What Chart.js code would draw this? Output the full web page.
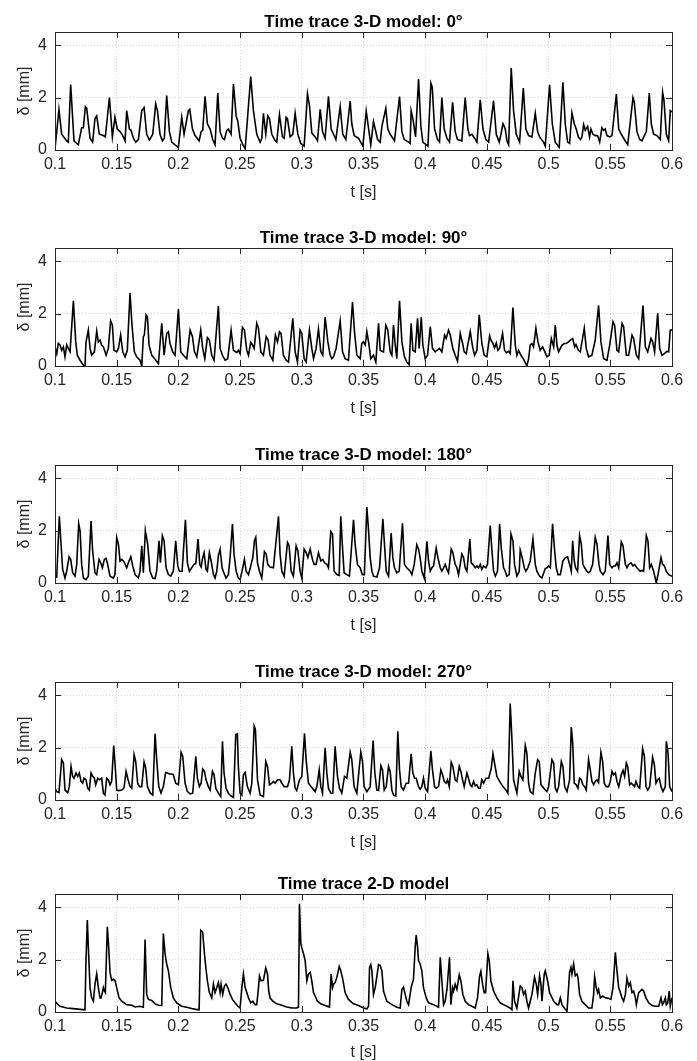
<!DOCTYPE html>
<html>
<head>
<meta charset="utf-8">
<script src="https://cdn.jsdelivr.net/npm/chart.js@4"></script>
<style>
  html, body { margin: 0; padding: 0; background: #fff; overflow: hidden; }
  #wrap { position: relative; width: 697px; height: 1061px; }
  #wrap canvas { position: absolute; left: 0; }
</style>
</head>
<body>
<div id="wrap"></div>
<script>
// 子图标题
const titles = [
    'Time trace 3-D model: 0°',
    'Time trace 3-D model: 90°',
    'Time trace 3-D model: 180°',
    'Time trace 3-D model: 270°',
    'Time trace 2-D model'
];
const xTicks = [0.1, 0.15, 0.2, 0.25, 0.3, 0.35, 0.4, 0.45, 0.5, 0.55, 0.6];
const yTicks = [0, 2, 4];
const xLabel = 't [s]';
const yLabel = 'δ [mm]';

// [t (s), delta (mm)] 读自原图
const trace0 = [[0.1000,0.05],[0.1032,1.55],[0.1054,0.6],[0.1095,0.35],[0.1108,0.3],[0.1127,2.5],[0.1154,0.35],[0.1189,0.2],[0.1216,0.85],[0.1230,0.85],[0.1246,1.65],[0.1257,1.6],[0.1284,0.45],[0.1305,0.3],[0.1324,1.2],[0.1338,1.3],[0.1359,0.6],[0.1392,0.55],[0.1408,0.5],[0.1441,2.0],[0.1465,0.5],[0.1486,1.25],[0.1505,0.8],[0.1527,0.7],[0.1549,0.55],[0.1568,0.35],[0.1581,1.5],[0.1603,0.8],[0.1616,0.75],[0.1635,0.45],[0.1654,0.3],[0.1676,0.4],[0.1703,1.5],[0.1722,1.62],[0.1743,0.6],[0.1765,0.38],[0.1792,0.6],[0.1816,1.76],[0.1830,1.5],[0.1851,0.6],[0.1870,0.35],[0.1886,0.45],[0.1905,2.08],[0.1927,0.7],[0.1946,0.3],[0.1973,0.2],[0.2000,0.1],[0.2027,1.25],[0.2046,0.6],[0.2081,1.5],[0.2092,1.55],[0.2114,0.8],[0.2135,0.55],[0.2168,0.35],[0.2184,0.7],[0.2197,0.75],[0.2216,2.05],[0.2235,1.0],[0.2257,0.8],[0.2278,0.4],[0.2297,0.2],[0.2319,2.17],[0.2338,0.7],[0.2357,0.45],[0.2373,0.4],[0.2392,0.75],[0.2405,0.8],[0.2427,0.6],[0.2446,2.52],[0.2468,1.3],[0.2481,1.1],[0.2500,0.45],[0.2522,0.2],[0.2541,0.05],[0.2586,2.8],[0.2608,1.5],[0.2635,0.6],[0.2662,0.3],[0.2676,0.45],[0.2689,1.4],[0.2708,0.6],[0.2724,1.3],[0.2738,1.2],[0.2757,0.6],[0.2784,0.35],[0.2797,0.3],[0.2819,1.35],[0.2843,0.5],[0.2857,0.45],[0.2873,1.25],[0.2884,1.2],[0.2905,0.5],[0.2927,0.6],[0.2946,1.4],[0.2968,0.6],[0.2992,0.25],[0.3019,0.15],[0.3046,2.14],[0.3062,1.7],[0.3081,0.65],[0.3108,0.5],[0.3127,0.35],[0.3149,1.55],[0.3168,0.7],[0.3189,0.45],[0.3216,2.05],[0.3238,0.8],[0.3257,0.6],[0.3276,0.4],[0.3311,1.65],[0.3332,0.6],[0.3357,0.4],[0.3392,1.87],[0.3405,1.0],[0.3424,0.55],[0.3459,0.45],[0.3495,0.15],[0.3522,1.49],[0.3559,0.2],[0.3581,1.08],[0.3595,0.8],[0.3614,0.4],[0.3635,0.3],[0.3649,0.9],[0.3681,1.59],[0.3697,0.8],[0.3716,0.6],[0.3738,0.45],[0.3751,0.35],[0.3792,2.04],[0.3811,0.7],[0.3830,0.4],[0.3865,0.3],[0.3878,0.25],[0.3886,1.5],[0.3900,1.2],[0.3922,0.5],[0.3946,2.71],[0.3965,0.9],[0.3981,0.3],[0.4022,0.15],[0.4046,2.55],[0.4057,2.4],[0.4076,0.8],[0.4100,0.4],[0.4116,0.3],[0.4135,2.0],[0.4154,0.8],[0.4176,0.45],[0.4197,0.3],[0.4222,1.82],[0.4243,0.7],[0.4262,0.4],[0.4297,0.35],[0.4324,2.0],[0.4346,0.8],[0.4359,0.55],[0.4378,0.6],[0.4400,0.45],[0.4419,0.3],[0.4446,1.91],[0.4468,0.8],[0.4492,0.4],[0.4514,0.3],[0.4554,1.88],[0.4576,0.6],[0.4600,0.3],[0.4614,0.6],[0.4630,1.0],[0.4649,0.8],[0.4662,0.35],[0.4676,0.2],[0.4697,3.13],[0.4716,1.5],[0.4738,0.6],[0.4765,0.3],[0.4795,2.36],[0.4816,0.8],[0.4838,0.55],[0.4865,0.5],[0.4892,1.4],[0.4911,0.7],[0.4927,0.5],[0.4959,0.3],[0.4973,0.15],[0.5008,2.49],[0.5030,1.0],[0.5054,0.3],[0.5086,0.1],[0.5116,2.58],[0.5135,1.0],[0.5154,0.3],[0.5170,0.25],[0.5189,1.42],[0.5208,1.0],[0.5224,0.8],[0.5241,0.5],[0.5257,0.4],[0.5270,0.5],[0.5284,0.97],[0.5297,0.75],[0.5316,0.9],[0.5332,0.5],[0.5343,0.8],[0.5359,0.6],[0.5378,0.55],[0.5397,0.55],[0.5414,0.3],[0.5432,0.85],[0.5446,0.75],[0.5459,0.8],[0.5473,0.55],[0.5495,0.5],[0.5514,0.55],[0.5549,2.13],[0.5568,0.8],[0.5589,0.6],[0.5614,0.4],[0.5641,0.2],[0.5684,2.0],[0.5695,1.8],[0.5716,0.7],[0.5738,0.4],[0.5757,0.35],[0.5776,0.55],[0.5792,0.7],[0.5816,2.17],[0.5832,1.0],[0.5851,0.6],[0.5878,0.55],[0.5905,0.4],[0.5924,2.2],[0.5935,1.9],[0.5954,0.6],[0.5973,0.35],[0.5986,1.5],[0.6000,1.45]];

const trace90 = [[0.1000,0.73],[0.1014,0.47],[0.1027,0.86],[0.1041,0.8],[0.1054,0.6],[0.1068,0.73],[0.1081,0.35],[0.1095,0.8],[0.1108,0.67],[0.1122,0.54],[0.1149,2.49],[0.1168,0.92],[0.1181,0.41],[0.1203,0.22],[0.1230,0.03],[0.1243,0.0],[0.1251,0.9],[0.1270,1.37],[0.1284,0.67],[0.1297,0.41],[0.1319,0.54],[0.1338,1.33],[0.1351,0.92],[0.1365,0.99],[0.1378,0.8],[0.1392,0.73],[0.1414,0.41],[0.1432,0.67],[0.1451,1.72],[0.1465,1.56],[0.1478,0.6],[0.1500,0.54],[0.1514,0.67],[0.1532,1.18],[0.1549,0.54],[0.1568,0.35],[0.1586,0.6],[0.1608,2.78],[0.1624,1.56],[0.1643,0.54],[0.1662,0.35],[0.1689,0.22],[0.1703,0.0],[0.1716,1.12],[0.1724,1.18],[0.1738,1.95],[0.1749,1.88],[0.1762,0.8],[0.1784,0.41],[0.1811,0.26],[0.1838,0.09],[0.1865,1.63],[0.1884,0.41],[0.1905,1.24],[0.1919,1.31],[0.1932,0.86],[0.1954,0.54],[0.1973,0.41],[0.2000,2.17],[0.2019,0.54],[0.2041,0.41],[0.2068,0.28],[0.2095,1.37],[0.2114,1.12],[0.2130,0.54],[0.2149,0.35],[0.2181,1.37],[0.2197,0.67],[0.2214,0.28],[0.2235,1.08],[0.2251,0.99],[0.2270,0.41],[0.2289,0.22],[0.2324,2.29],[0.2338,0.67],[0.2357,0.41],[0.2378,0.22],[0.2400,0.28],[0.2427,1.37],[0.2446,0.6],[0.2473,0.51],[0.2486,0.6],[0.2500,0.47],[0.2519,1.47],[0.2535,1.37],[0.2554,0.6],[0.2568,0.41],[0.2586,0.9],[0.2600,0.8],[0.2614,0.67],[0.2635,1.63],[0.2649,1.44],[0.2668,0.54],[0.2689,0.41],[0.2711,1.12],[0.2727,0.99],[0.2743,0.41],[0.2765,0.22],[0.2786,1.18],[0.2803,0.92],[0.2819,1.31],[0.2832,1.24],[0.2851,0.41],[0.2873,0.22],[0.2892,0.15],[0.2927,1.82],[0.2946,0.54],[0.2965,0.15],[0.2986,1.37],[0.3000,1.24],[0.3019,0.28],[0.3035,0.15],[0.3062,1.37],[0.3081,0.67],[0.3095,0.28],[0.3116,0.67],[0.3135,1.41],[0.3154,0.54],[0.3170,0.41],[0.3189,1.87],[0.3211,0.92],[0.3230,0.41],[0.3243,0.28],[0.3257,0.35],[0.3278,0.67],[0.3311,1.72],[0.3330,0.54],[0.3351,0.28],[0.3378,0.22],[0.3411,2.44],[0.3427,1.31],[0.3446,0.41],[0.3473,0.28],[0.3486,0.86],[0.3500,0.92],[0.3514,0.8],[0.3527,1.31],[0.3541,0.92],[0.3559,0.28],[0.3581,0.41],[0.3600,0.15],[0.3622,1.63],[0.3635,0.6],[0.3649,0.56],[0.3662,0.54],[0.3681,1.56],[0.3697,1.37],[0.3716,0.54],[0.3730,0.41],[0.3743,1.56],[0.3757,0.8],[0.3770,0.28],[0.3792,2.49],[0.3811,0.92],[0.3832,0.35],[0.3851,0.15],[0.3870,0.05],[0.3886,1.63],[0.3900,0.6],[0.3919,0.54],[0.3938,1.82],[0.3951,0.67],[0.3968,1.88],[0.3981,0.8],[0.4000,0.28],[0.4019,0.41],[0.4041,1.5],[0.4059,0.67],[0.4081,0.54],[0.4095,0.6],[0.4116,0.67],[0.4135,0.54],[0.4157,1.18],[0.4170,1.05],[0.4189,1.37],[0.4203,1.18],[0.4224,0.67],[0.4243,0.41],[0.4262,0.19],[0.4284,1.24],[0.4303,0.86],[0.4316,0.54],[0.4332,0.47],[0.4365,1.31],[0.4384,0.73],[0.4400,0.41],[0.4419,0.6],[0.4438,1.95],[0.4459,0.86],[0.4478,0.41],[0.4500,0.35],[0.4522,1.15],[0.4532,0.99],[0.4549,0.86],[0.4562,0.69],[0.4576,0.88],[0.4589,0.6],[0.4603,0.67],[0.4627,1.24],[0.4643,0.6],[0.4657,0.51],[0.4676,0.56],[0.4689,0.47],[0.4711,2.23],[0.4730,0.79],[0.4743,0.41],[0.4757,0.6],[0.4776,0.41],[0.4797,0.26],[0.4824,0.0],[0.4838,0.28],[0.4851,0.8],[0.4865,0.86],[0.4878,0.73],[0.4897,1.44],[0.4914,0.92],[0.4932,0.6],[0.4951,0.73],[0.4970,0.54],[0.4986,0.35],[0.5005,0.41],[0.5022,1.05],[0.5041,0.73],[0.5054,1.56],[0.5068,0.79],[0.5081,0.54],[0.5095,0.67],[0.5108,0.79],[0.5127,0.86],[0.5143,0.86],[0.5162,0.92],[0.5176,0.99],[0.5195,1.05],[0.5211,0.73],[0.5222,0.82],[0.5241,0.6],[0.5257,0.54],[0.5289,1.44],[0.5305,0.67],[0.5324,0.35],[0.5351,0.41],[0.5378,0.99],[0.5405,2.31],[0.5424,0.92],[0.5446,0.28],[0.5473,0.22],[0.5495,0.8],[0.5522,1.69],[0.5535,1.56],[0.5554,0.6],[0.5568,0.54],[0.5595,1.63],[0.5608,1.5],[0.5630,0.41],[0.5649,0.41],[0.5676,1.18],[0.5689,1.05],[0.5711,0.41],[0.5730,0.28],[0.5765,2.31],[0.5784,0.73],[0.5803,0.54],[0.5830,1.05],[0.5843,0.92],[0.5859,0.54],[0.5884,2.01],[0.5900,0.67],[0.5919,0.41],[0.5938,0.47],[0.5959,0.56],[0.5973,0.54],[0.5986,1.37],[0.6000,1.37]];

const trace180 = [[0.1000,0.26],[0.1014,0.22],[0.1035,2.54],[0.1049,1.48],[0.1062,0.52],[0.1081,0.19],[0.1095,0.45],[0.1114,1.0],[0.1127,0.9],[0.1143,0.39],[0.1162,0.26],[0.1176,0.71],[0.1192,2.26],[0.1203,2.0],[0.1216,0.71],[0.1230,0.19],[0.1251,0.13],[0.1270,0.26],[0.1292,2.36],[0.1305,1.23],[0.1324,0.39],[0.1338,0.32],[0.1357,0.9],[0.1370,0.77],[0.1384,0.58],[0.1400,0.9],[0.1414,0.94],[0.1427,0.71],[0.1446,0.26],[0.1473,0.19],[0.1486,0.32],[0.1500,1.74],[0.1514,1.48],[0.1527,0.84],[0.1541,0.9],[0.1559,0.81],[0.1581,0.58],[0.1600,0.84],[0.1614,1.0],[0.1630,0.65],[0.1649,0.32],[0.1676,0.19],[0.1689,0.45],[0.1703,1.42],[0.1716,0.39],[0.1732,2.0],[0.1751,1.48],[0.1770,0.45],[0.1792,0.19],[0.1811,0.17],[0.1824,0.45],[0.1843,1.61],[0.1854,0.77],[0.1870,1.81],[0.1884,1.61],[0.1900,0.58],[0.1919,0.32],[0.1938,0.26],[0.1959,0.45],[0.1978,1.61],[0.1995,0.65],[0.2008,0.45],[0.2030,0.45],[0.2057,2.41],[0.2073,0.77],[0.2089,0.45],[0.2108,0.58],[0.2127,0.71],[0.2141,0.74],[0.2159,1.68],[0.2173,0.71],[0.2184,0.61],[0.2197,0.97],[0.2208,1.16],[0.2224,0.52],[0.2235,0.45],[0.2251,1.16],[0.2265,0.84],[0.2284,0.32],[0.2297,0.19],[0.2311,0.45],[0.2324,1.03],[0.2338,1.29],[0.2354,0.58],[0.2365,0.43],[0.2386,0.19],[0.2405,0.32],[0.2419,0.97],[0.2438,2.25],[0.2451,1.1],[0.2468,0.45],[0.2486,0.19],[0.2500,0.13],[0.2516,0.45],[0.2535,0.9],[0.2549,0.45],[0.2568,0.32],[0.2586,0.65],[0.2603,0.97],[0.2616,1.61],[0.2627,1.74],[0.2641,0.77],[0.2657,0.45],[0.2676,0.19],[0.2697,1.2],[0.2711,1.1],[0.2724,0.71],[0.2743,0.61],[0.2770,0.58],[0.2811,2.54],[0.2824,1.1],[0.2838,0.45],[0.2857,0.26],[0.2884,1.55],[0.2897,1.42],[0.2914,0.45],[0.2932,0.26],[0.2954,1.42],[0.2968,1.23],[0.2986,0.45],[0.3000,0.19],[0.3019,1.29],[0.3035,1.16],[0.3049,0.97],[0.3068,1.29],[0.3086,0.9],[0.3100,0.71],[0.3116,0.71],[0.3135,1.16],[0.3154,0.84],[0.3170,0.9],[0.3184,0.77],[0.3203,0.71],[0.3216,0.58],[0.3235,1.96],[0.3249,1.87],[0.3262,0.45],[0.3284,0.32],[0.3303,0.29],[0.3316,2.54],[0.3330,1.35],[0.3343,0.39],[0.3365,0.32],[0.3386,0.26],[0.3419,2.41],[0.3432,1.48],[0.3451,0.71],[0.3473,0.58],[0.3490,0.32],[0.3507,0.32],[0.3527,2.9],[0.3541,2.0],[0.3554,0.97],[0.3568,0.45],[0.3581,0.26],[0.3608,0.23],[0.3630,0.58],[0.3657,2.45],[0.3670,1.48],[0.3684,0.45],[0.3703,0.26],[0.3724,1.9],[0.3738,0.97],[0.3751,0.58],[0.3770,0.39],[0.3789,0.45],[0.3816,2.28],[0.3832,0.71],[0.3851,0.58],[0.3878,0.45],[0.3892,0.32],[0.3911,0.71],[0.3932,1.46],[0.3946,1.29],[0.3959,0.97],[0.3973,0.45],[0.3992,0.19],[0.4014,1.59],[0.4027,0.84],[0.4041,0.45],[0.4054,0.58],[0.4068,0.65],[0.4089,1.33],[0.4103,0.97],[0.4122,0.58],[0.4135,0.45],[0.4149,0.58],[0.4162,0.71],[0.4176,0.52],[0.4189,0.39],[0.4211,1.29],[0.4224,1.16],[0.4243,0.71],[0.4257,0.58],[0.4270,0.32],[0.4284,0.71],[0.4297,1.1],[0.4311,0.97],[0.4324,0.58],[0.4338,0.45],[0.4362,1.68],[0.4373,0.77],[0.4386,0.71],[0.4405,0.58],[0.4419,0.65],[0.4432,0.58],[0.4446,0.71],[0.4459,0.52],[0.4473,0.65],[0.4492,0.58],[0.4505,0.71],[0.4527,2.19],[0.4541,1.23],[0.4554,0.45],[0.4568,0.26],[0.4586,0.45],[0.4603,2.26],[0.4616,1.35],[0.4635,0.58],[0.4649,0.45],[0.4662,0.26],[0.4681,0.32],[0.4695,1.87],[0.4711,1.61],[0.4724,0.71],[0.4743,0.26],[0.4762,0.45],[0.4770,1.25],[0.4786,0.97],[0.4803,0.58],[0.4816,0.45],[0.4832,0.58],[0.4851,0.84],[0.4873,1.68],[0.4892,0.71],[0.4905,0.45],[0.4927,0.26],[0.4946,0.19],[0.4973,0.55],[0.4986,0.58],[0.5000,0.65],[0.5014,0.58],[0.5032,2.26],[0.5049,1.23],[0.5062,0.58],[0.5076,0.32],[0.5095,0.32],[0.5116,0.84],[0.5135,0.97],[0.5154,1.0],[0.5170,0.71],[0.5184,0.45],[0.5195,1.61],[0.5208,0.84],[0.5219,0.58],[0.5235,0.45],[0.5251,1.81],[0.5265,1.48],[0.5278,0.71],[0.5292,0.58],[0.5311,0.45],[0.5324,0.39],[0.5338,0.45],[0.5357,0.71],[0.5378,1.74],[0.5392,1.48],[0.5408,0.71],[0.5419,0.45],[0.5441,0.32],[0.5459,0.45],[0.5481,1.81],[0.5495,0.71],[0.5514,0.58],[0.5527,0.65],[0.5541,0.65],[0.5554,0.77],[0.5568,0.58],[0.5589,1.57],[0.5603,1.42],[0.5622,0.71],[0.5635,0.58],[0.5649,0.71],[0.5668,0.77],[0.5684,0.65],[0.5697,0.71],[0.5716,0.58],[0.5743,0.45],[0.5757,0.48],[0.5770,0.45],[0.5792,1.81],[0.5805,1.61],[0.5819,0.58],[0.5832,0.71],[0.5851,0.45],[0.5873,0.0],[0.5892,0.45],[0.5911,0.97],[0.5924,0.71],[0.5938,0.65],[0.5954,0.45],[0.5973,0.32],[0.5986,0.29],[0.6000,0.26]];

const trace270 = [[0.1000,0.45],[0.1014,0.32],[0.1032,0.28],[0.1054,1.54],[0.1068,1.41],[0.1081,0.38],[0.1103,0.28],[0.1116,0.51],[0.1130,1.28],[0.1143,0.9],[0.1154,0.83],[0.1170,1.03],[0.1184,0.9],[0.1197,1.03],[0.1211,0.71],[0.1224,0.64],[0.1235,0.83],[0.1251,0.77],[0.1265,0.45],[0.1278,0.38],[0.1292,1.03],[0.1305,0.9],[0.1319,0.83],[0.1330,0.58],[0.1346,0.83],[0.1359,0.77],[0.1378,0.83],[0.1392,0.26],[0.1405,0.19],[0.1419,0.83],[0.1432,0.77],[0.1446,0.58],[0.1459,0.71],[0.1476,2.08],[0.1486,1.41],[0.1500,0.38],[0.1514,0.36],[0.1541,0.38],[0.1559,0.45],[0.1576,1.09],[0.1589,0.83],[0.1608,0.51],[0.1622,0.45],[0.1641,1.73],[0.1654,1.47],[0.1670,0.64],[0.1684,0.51],[0.1703,0.51],[0.1722,1.45],[0.1735,1.22],[0.1749,0.51],[0.1770,0.28],[0.1792,0.19],[0.1811,2.53],[0.1824,1.54],[0.1841,0.51],[0.1859,0.26],[0.1878,0.51],[0.1897,1.05],[0.1911,1.03],[0.1927,0.99],[0.1946,0.99],[0.1959,0.96],[0.1978,0.64],[0.2000,0.58],[0.2022,1.82],[0.2035,1.67],[0.2054,0.64],[0.2073,0.32],[0.2095,0.23],[0.2116,0.26],[0.2141,1.67],[0.2154,0.83],[0.2170,0.51],[0.2184,0.64],[0.2197,1.18],[0.2211,1.09],[0.2224,0.77],[0.2243,0.51],[0.2257,0.38],[0.2276,1.09],[0.2289,0.96],[0.2303,0.45],[0.2324,0.26],[0.2343,0.13],[0.2357,2.24],[0.2370,1.03],[0.2386,0.45],[0.2405,0.26],[0.2427,0.15],[0.2446,0.1],[0.2465,2.5],[0.2478,2.53],[0.2486,1.28],[0.2500,0.26],[0.2514,0.19],[0.2527,0.96],[0.2541,1.05],[0.2559,0.51],[0.2581,0.26],[0.2595,0.64],[0.2614,2.82],[0.2624,2.69],[0.2641,0.77],[0.2662,0.19],[0.2689,0.13],[0.2708,1.47],[0.2722,1.28],[0.2738,0.58],[0.2757,0.64],[0.2770,0.71],[0.2784,0.64],[0.2803,0.77],[0.2824,0.77],[0.2838,0.64],[0.2857,0.51],[0.2884,0.51],[0.2900,0.77],[0.2919,2.05],[0.2932,1.03],[0.2946,0.45],[0.2959,0.36],[0.2981,0.77],[0.3000,0.9],[0.3022,2.54],[0.3035,1.54],[0.3054,0.64],[0.3076,0.51],[0.3108,0.32],[0.3122,0.51],[0.3141,1.15],[0.3154,0.51],[0.3168,0.26],[0.3189,1.99],[0.3203,1.03],[0.3216,0.45],[0.3235,0.26],[0.3251,0.26],[0.3270,2.05],[0.3289,0.9],[0.3305,0.45],[0.3324,0.26],[0.3346,0.9],[0.3365,0.83],[0.3392,1.82],[0.3405,1.54],[0.3424,0.51],[0.3446,0.26],[0.3478,1.82],[0.3492,1.47],[0.3505,0.51],[0.3527,0.32],[0.3554,0.51],[0.3578,2.27],[0.3592,1.03],[0.3608,0.38],[0.3622,0.36],[0.3641,1.31],[0.3654,1.15],[0.3668,0.38],[0.3684,0.51],[0.3703,1.28],[0.3716,1.09],[0.3730,0.38],[0.3743,0.19],[0.3762,0.15],[0.3778,2.62],[0.3792,1.15],[0.3805,0.51],[0.3824,0.38],[0.3846,0.64],[0.3865,0.64],[0.3886,1.76],[0.3900,1.03],[0.3914,0.83],[0.3927,0.83],[0.3946,0.51],[0.3959,0.41],[0.3973,0.51],[0.3986,0.83],[0.4000,0.45],[0.4019,0.32],[0.4046,1.88],[0.4059,1.15],[0.4076,0.51],[0.4089,0.45],[0.4108,0.51],[0.4127,1.15],[0.4141,0.96],[0.4154,0.71],[0.4170,0.64],[0.4181,0.77],[0.4195,0.51],[0.4211,1.44],[0.4224,1.28],[0.4243,0.77],[0.4257,0.71],[0.4276,1.28],[0.4289,1.09],[0.4303,0.77],[0.4316,0.51],[0.4338,1.03],[0.4351,0.83],[0.4365,0.58],[0.4378,0.51],[0.4392,0.71],[0.4405,0.54],[0.4419,0.58],[0.4432,0.45],[0.4446,0.45],[0.4459,0.77],[0.4473,0.64],[0.4492,0.83],[0.4514,0.83],[0.4535,1.2],[0.4549,1.77],[0.4562,1.41],[0.4581,0.9],[0.4603,0.71],[0.4630,0.51],[0.4657,0.36],[0.4670,0.26],[0.4689,3.68],[0.4703,2.31],[0.4716,0.77],[0.4730,0.51],[0.4743,0.26],[0.4762,1.09],[0.4776,0.9],[0.4792,0.77],[0.4811,2.08],[0.4824,1.79],[0.4838,0.64],[0.4851,0.32],[0.4873,0.23],[0.4892,1.03],[0.4911,1.54],[0.4924,1.47],[0.4938,0.58],[0.4951,0.51],[0.4973,0.38],[0.4986,0.32],[0.5000,0.51],[0.5027,1.54],[0.5041,1.41],[0.5054,0.45],[0.5068,0.32],[0.5081,0.51],[0.5103,1.47],[0.5116,1.28],[0.5130,0.51],[0.5149,0.32],[0.5170,0.77],[0.5184,2.78],[0.5195,2.18],[0.5208,0.64],[0.5224,0.58],[0.5238,0.45],[0.5251,0.83],[0.5265,0.77],[0.5278,0.58],[0.5292,0.51],[0.5305,0.38],[0.5324,1.54],[0.5338,1.15],[0.5351,0.71],[0.5365,0.58],[0.5378,0.71],[0.5392,0.77],[0.5405,0.67],[0.5424,1.82],[0.5438,1.47],[0.5451,0.64],[0.5468,0.51],[0.5486,0.51],[0.5500,0.71],[0.5514,1.09],[0.5527,0.96],[0.5541,1.03],[0.5554,0.71],[0.5568,0.51],[0.5589,0.96],[0.5603,1.13],[0.5616,0.9],[0.5630,1.41],[0.5641,1.28],[0.5657,0.58],[0.5670,0.64],[0.5684,0.58],[0.5697,0.51],[0.5708,0.71],[0.5724,0.51],[0.5738,0.45],[0.5762,1.96],[0.5776,1.67],[0.5789,0.51],[0.5803,0.38],[0.5819,0.51],[0.5843,1.63],[0.5857,1.35],[0.5870,0.64],[0.5884,0.77],[0.5897,0.83],[0.5911,0.51],[0.5927,0.32],[0.5946,0.51],[0.5954,2.24],[0.5968,1.79],[0.5981,0.51],[0.6000,0.32]];

const trace2d = [[0.1000,0.41],[0.1019,0.31],[0.1041,0.22],[0.1095,0.15],[0.1149,0.13],[0.1203,0.1],[0.1243,0.08],[0.1251,1.96],[0.1262,3.51],[0.1270,2.48],[0.1284,0.93],[0.1297,0.54],[0.1311,0.41],[0.1324,1.06],[0.1338,1.45],[0.1351,0.93],[0.1365,0.54],[0.1373,0.54],[0.1384,0.74],[0.1392,0.93],[0.1400,0.8],[0.1408,0.74],[0.1424,3.25],[0.1435,2.48],[0.1446,1.51],[0.1459,1.21],[0.1473,1.25],[0.1486,1.21],[0.1500,0.93],[0.1519,0.54],[0.1541,0.41],[0.1581,0.28],[0.1622,0.26],[0.1649,0.19],[0.1689,0.22],[0.1716,0.18],[0.1730,2.76],[0.1743,0.67],[0.1757,0.48],[0.1784,0.44],[0.1811,0.31],[0.1838,0.26],[0.1865,0.25],[0.1878,2.99],[0.1892,2.22],[0.1905,1.83],[0.1919,1.57],[0.1938,0.93],[0.1959,0.54],[0.1986,0.35],[0.2027,0.22],[0.2068,0.18],[0.2108,0.13],[0.2149,0.09],[0.2168,0.09],[0.2181,3.12],[0.2197,3.05],[0.2211,2.22],[0.2224,1.63],[0.2235,1.19],[0.2251,0.74],[0.2270,0.54],[0.2284,1.06],[0.2297,0.74],[0.2311,0.93],[0.2324,1.12],[0.2338,0.74],[0.2346,1.06],[0.2359,0.67],[0.2373,0.99],[0.2386,1.06],[0.2400,0.93],[0.2419,0.67],[0.2438,0.48],[0.2459,0.35],[0.2481,0.22],[0.2500,0.15],[0.2514,0.93],[0.2527,1.45],[0.2541,0.93],[0.2554,0.74],[0.2568,0.54],[0.2586,0.35],[0.2603,0.41],[0.2622,0.28],[0.2635,0.28],[0.2649,0.93],[0.2657,1.38],[0.2670,1.19],[0.2689,1.21],[0.2708,1.68],[0.2722,1.45],[0.2732,0.8],[0.2743,0.54],[0.2765,0.41],[0.2797,0.31],[0.2838,0.26],[0.2878,0.19],[0.2919,0.15],[0.2959,0.15],[0.2973,0.18],[0.2981,4.13],[0.2992,2.61],[0.3000,2.45],[0.3014,2.22],[0.3027,1.96],[0.3041,1.19],[0.3054,1.45],[0.3068,1.51],[0.3081,1.19],[0.3095,0.74],[0.3108,0.61],[0.3127,0.41],[0.3154,0.31],[0.3189,0.25],[0.3224,0.19],[0.3238,1.45],[0.3249,0.93],[0.3257,1.06],[0.3270,1.12],[0.3284,1.32],[0.3303,1.73],[0.3316,1.57],[0.3332,1.25],[0.3351,0.74],[0.3378,0.48],[0.3419,0.31],[0.3459,0.25],[0.3500,0.15],[0.3527,0.12],[0.3541,0.22],[0.3549,1.7],[0.3559,1.81],[0.3568,1.57],[0.3581,0.67],[0.3595,0.93],[0.3622,1.81],[0.3635,1.77],[0.3649,1.57],[0.3662,0.8],[0.3689,0.41],[0.3730,0.28],[0.3770,0.18],[0.3797,0.15],[0.3811,0.86],[0.3824,0.95],[0.3838,0.67],[0.3851,0.41],[0.3865,0.28],[0.3886,0.93],[0.3905,1.25],[0.3919,2.48],[0.3927,2.93],[0.3938,2.48],[0.3946,1.96],[0.3959,1.83],[0.3973,1.57],[0.3986,0.93],[0.4008,0.54],[0.4027,0.35],[0.4068,0.28],[0.4108,0.18],[0.4122,2.09],[0.4135,1.19],[0.4149,0.28],[0.4162,0.41],[0.4176,0.86],[0.4197,2.09],[0.4208,0.28],[0.4222,0.93],[0.4230,0.8],[0.4243,1.06],[0.4257,0.86],[0.4276,1.42],[0.4289,1.19],[0.4305,0.67],[0.4324,0.41],[0.4351,0.28],[0.4378,0.22],[0.4405,0.15],[0.4424,0.54],[0.4441,1.38],[0.4451,1.55],[0.4465,1.06],[0.4478,0.74],[0.4489,0.74],[0.4508,2.22],[0.4519,1.96],[0.4532,1.19],[0.4554,0.8],[0.4581,0.54],[0.4608,0.35],[0.4635,0.28],[0.4662,0.22],[0.4689,0.15],[0.4703,0.09],[0.4711,1.19],[0.4724,0.41],[0.4743,0.15],[0.4770,0.99],[0.4784,0.93],[0.4797,0.67],[0.4811,0.8],[0.4824,0.41],[0.4838,0.15],[0.4851,0.41],[0.4865,0.67],[0.4886,1.32],[0.4900,1.06],[0.4911,0.67],[0.4927,1.38],[0.4938,1.06],[0.4946,0.41],[0.4965,1.45],[0.4973,1.57],[0.4992,1.19],[0.5008,0.74],[0.5041,0.41],[0.5068,0.28],[0.5081,0.28],[0.5095,0.54],[0.5108,0.28],[0.5127,0.15],[0.5149,0.03],[0.5162,0.93],[0.5170,1.51],[0.5181,1.7],[0.5189,1.45],[0.5203,1.83],[0.5216,1.38],[0.5230,1.45],[0.5238,1.32],[0.5251,0.67],[0.5270,0.41],[0.5297,0.28],[0.5324,0.15],[0.5351,0.15],[0.5365,0.67],[0.5373,1.34],[0.5386,0.93],[0.5397,0.74],[0.5405,0.86],[0.5419,0.54],[0.5438,0.61],[0.5459,0.54],[0.5486,0.52],[0.5505,0.48],[0.5522,0.93],[0.5541,2.28],[0.5554,1.57],[0.5568,0.93],[0.5581,0.74],[0.5595,0.54],[0.5608,0.41],[0.5622,0.67],[0.5635,1.29],[0.5649,0.99],[0.5662,1.12],[0.5676,0.74],[0.5689,0.8],[0.5703,0.54],[0.5711,0.28],[0.5730,0.74],[0.5757,0.86],[0.5770,0.8],[0.5789,0.54],[0.5811,0.35],[0.5838,0.25],[0.5865,0.22],[0.5892,0.22],[0.5911,0.54],[0.5922,0.28],[0.5932,0.35],[0.5946,0.54],[0.5954,0.28],[0.5965,0.35],[0.5978,0.8],[0.5986,0.22],[0.6000,0.54]];

const traces = [trace0, trace90, trace180, trace270, trace2d];
const panelTops = [0, 216, 433, 650, 862];
const panelHeights = [205, 205, 205, 205, 199];

const textColor = '#262626';
const fontFamily = '"Liberation Sans", Arial, Helvetica, sans-serif';

// 边框与内向刻度线 (MATLAB 风格)
const boxPlugin = {
    id: 'boxTicks',
    afterDraw(chart) {
        const {ctx, chartArea: a, scales} = chart;
        const len = 6;
        ctx.save();
        ctx.strokeStyle = textColor;
        ctx.lineWidth = 1;
        ctx.beginPath();
        scales.x.ticks.forEach(t => {
            const px = Math.round(scales.x.getPixelForValue(t.value)) + 0.5;
            ctx.moveTo(px, a.top); ctx.lineTo(px, a.top + len);
            ctx.moveTo(px, a.bottom); ctx.lineTo(px, a.bottom - len);
        });
        scales.y.ticks.forEach(t => {
            const py = Math.round(scales.y.getPixelForValue(t.value)) + 0.5;
            ctx.moveTo(a.left, py); ctx.lineTo(a.left + len, py);
            ctx.moveTo(a.right, py); ctx.lineTo(a.right - len, py);
        });
        ctx.stroke();
        ctx.strokeRect(Math.round(a.left) + 0.5, Math.round(a.top) + 0.5,
            Math.round(a.right - a.left), Math.round(a.bottom - a.top));
        ctx.restore();
    }
};

const wrap = document.getElementById('wrap');

traces.forEach((trace, i) => {
    const h = panelHeights[i];
    const canvas = document.createElement('canvas');
    canvas.width = 697;
    canvas.height = h;
    canvas.style.top = panelTops[i] + 'px';
    wrap.appendChild(canvas);

    new Chart(canvas.getContext('2d'), {
        type: 'line',
        data: {
            datasets: [{
                data: trace.map(p => ({x: p[0], y: p[1]})),
                borderColor: '#000',
                borderWidth: 1.6,
                pointRadius: 0,
                tension: 0,
                fill: false
            }]
        },
        options: {
            responsive: false,
            animation: false,
            layout: { padding: { left: 0, right: 25, top: 0, bottom: 0 } },
            plugins: {
                legend: { display: false },
                tooltip: { enabled: false },
                title: {
                    display: true,
                    text: titles[i],
                    fullSize: false,
                    color: '#000',
                    font: { family: fontFamily, size: 17, weight: 'bold', lineHeight: 1 },
                    padding: { top: 14, bottom: 1 }
                }
            },
            scales: {
                x: {
                    type: 'linear',
                    min: 0.1,
                    max: 0.6,
                    afterBuildTicks: s => { s.ticks = xTicks.map(v => ({value: v})); },
                    afterFit: s => { s.height = h - 150; },
                    ticks: {
                        color: textColor,
                        font: { family: fontFamily, size: 16 },
                        padding: 5,
                        maxRotation: 0,
                        autoSkip: false,
                        callback: v => String(Number(v.toFixed(2)))
                    },
                    grid: { color: 'rgba(38,38,38,0.18)', drawTicks: false },
                    border: { display: false, dash: [1, 2] },
                    title: {
                        display: true,
                        text: xLabel,
                        color: textColor,
                        font: { family: fontFamily, size: 16, lineHeight: 1 },
                        padding: { top: 0, bottom: Math.max(0, h - 201) }
                    }
                },
                y: {
                    min: 0,
                    max: 4.5,
                    afterBuildTicks: s => { s.ticks = yTicks.map(v => ({value: v})); },
                    afterFit: s => { s.width = 55; },
                    ticks: {
                        color: textColor,
                        font: { family: fontFamily, size: 16 },
                        padding: 8,
                        callback: v => String(v)
                    },
                    grid: { color: 'rgba(38,38,38,0.18)', drawTicks: false },
                    border: { display: false, dash: [1, 2] },
                    title: {
                        display: true,
                        text: yLabel,
                        color: textColor,
                        font: { family: fontFamily, size: 16, lineHeight: 1.2 },
                        padding: { top: 15, bottom: 0 }
                    }
                }
            }
        },
        plugins: [boxPlugin]
    });
});
</script>
</body>
</html>
